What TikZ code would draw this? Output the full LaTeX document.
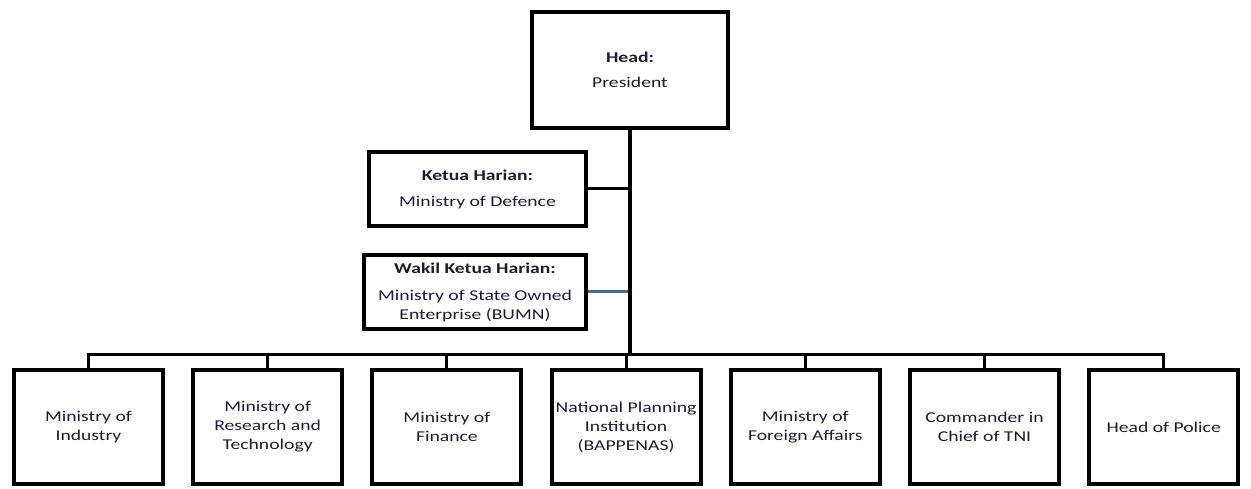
\documentclass[tikz,border=0pt]{standalone}
\usepackage{fontspec}
\setmainfont[FakeStretch=1.31]{Carlito}
\usetikzlibrary{positioning}

\definecolor{txtcol}{RGB}{28,28,48}
\definecolor{bluelink}{RGB}{70,108,155}

\tikzset{
  orgbox/.style={draw, line width=4pt, align=center, inner sep=2pt, text=txtcol,
    font=\fontsize{15}{19}\selectfont},
  unitbox/.style={orgbox, minimum width=149pt, minimum height=114pt},
  link/.style={line width=4.5pt},
  buslink/.style={line width=3pt}
}

\begin{document}
\begin{tikzpicture}[x=1pt,y=-1pt]
    \useasboundingbox (0,0) rectangle (1251,489);

    % Head
    \node[orgbox, minimum width=196pt, minimum height=116pt] (pres) at (630,70)
        {\textbf{Head:}\\[6pt]President};

    % Ketua and Wakil
    \node[orgbox, minimum width=217pt, minimum height=74pt] (ketua) at (477.5,189)
        {\textbf{Ketua Harian:}\\[7pt]Ministry of Defence};
    \node[orgbox, minimum width=222pt, minimum height=74pt] (wakil) at (475,292)
        {\textbf{Wakil Ketua Harian:}\\[8pt]Ministry of State Owned\\Enterprise (BUMN)};

    % Member units
    \foreach \i/\x/\label in {1/88.5/{Ministry of\\Industry},
                              2/267.7/{Ministry of\\Research and\\Technology},
                              3/446.9/{Ministry of\\Finance},
                              4/626.1/{National Planning\\Institution\\(BAPPENAS)},
                              5/805.3/{Ministry of\\Foreign Affairs},
                              6/984.5/{Commander in\\Chief of TNI},
                              7/1163.7/{Head of Police}}
        \node[unitbox] (u\i) at (\x,427) {\label};

    % Trunk and side links
    \draw[link] (pres.south) -- ([yshift=14pt]pres.south |- u1.north);
    \draw[buslink] (ketua.east) -- (ketua.east -| pres.south);
    \draw[buslink, bluelink] (wakil.east) -- ([xshift=-2pt]wakil.east -| pres.south);

    % Bus to the units
    \draw[buslink] (u1.north) -- ++(0,-14) -| (u7.north);
    \foreach \i in {2,...,6}
        \draw[buslink] (u\i.north) -- ++(0,-14);
\end{tikzpicture}
\end{document}
